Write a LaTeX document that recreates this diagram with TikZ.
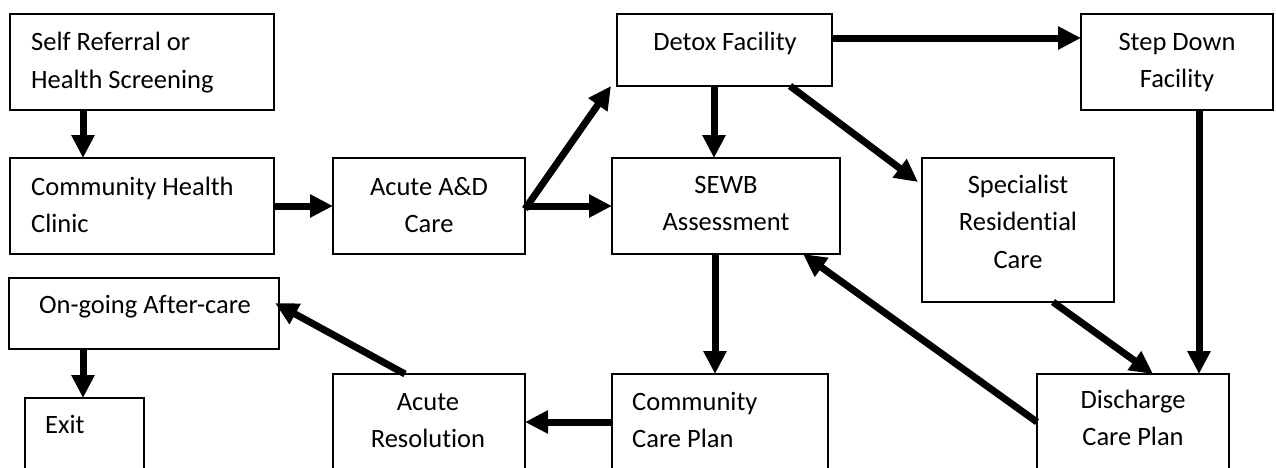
\documentclass[tikz,border=0pt]{standalone}
\usepackage{fontspec}
\setmainfont{Carlito}[Ligatures=NoCommon]
\usetikzlibrary{arrows.meta}
\begin{document}
\begin{tikzpicture}[x=1pt,y=-1pt,
  box/.style={draw,line width=1.2pt,anchor=north west,inner sep=0pt,outer sep=0pt},
  lbl/.style={anchor=base west,inner sep=0pt,font=\fontsize{26.5}{37}\selectfont},
  clbl/.style={anchor=base,inner sep=0pt,font=\fontsize{26.5}{37}\selectfont},
  arr/.style={line width=7pt,-{Triangle[length=23pt,width=22pt]}}]
\path[use as bounding box] (0,0) rectangle (1276,467);
\fill[white] (0,0) rectangle (1276,467);
\clip (0,0) rectangle (1276,467);
% boxes
\node[box,minimum width=264pt,minimum height=96pt] (self) at (10,14) {};
\node[box,minimum width=264pt,minimum height=96pt] (chc) at (10,158) {};
\node[box,minimum width=192pt,minimum height=96pt] (acute) at (333,158) {};
\node[box,minimum width=215pt,minimum height=72pt] (detox) at (617,14) {};
\node[box,minimum width=228pt,minimum height=96pt] (sewb) at (612,158) {};
\node[box,minimum width=192pt,minimum height=96pt] (step) at (1081,14) {};
\node[box,minimum width=192pt,minimum height=144pt] (spec) at (922,158) {};
\node[box,minimum width=192pt,minimum height=120pt] (disc) at (1037,374) {};
\node[box,minimum width=270pt,minimum height=71pt] (ongo) at (9,278) {};
\node[box,minimum width=119pt,minimum height=100pt] (exit) at (25,398) {};
\node[box,minimum width=192pt,minimum height=120pt] (ares) at (333,374) {};
\node[box,minimum width=216pt,minimum height=120pt] (ccp) at (612,374) {};
% texts
\node[lbl] (t1a) at (31,50) {Self Referral or};
\node[lbl] (t1b) at (31,88) {Health Screening};
\node[lbl] (t2a) at (31,195) {Community Health};
\node[lbl] (t2b) at (31,232) {Clinic};
\node[clbl] (t3a) at (429,195) {Acute A\&D};
\node[clbl] (t3b) at (429,232) {Care};
\node[clbl] (t4) at (725,50) {Detox Facility};
\node[clbl] (t5a) at (726,193) {SEWB};
\node[clbl] (t5b) at (726,230) {Assessment};
\node[clbl] (t6a) at (1177,50) {Step Down};
\node[clbl] (t6b) at (1177,87) {Facility};
\node[clbl] (t7a) at (1018,193) {Specialist};
\node[clbl] (t7b) at (1018,230) {Residential};
\node[clbl] (t7c) at (1018,268) {Care};
\node[clbl] (t8a) at (1133,408) {Discharge};
\node[clbl] (t8b) at (1133,445) {Care Plan};
\node[clbl] (t9) at (145,313) {On-going After-care};
\node[lbl] (t10) at (45,433) {Exit};
\node[clbl] (t11a) at (428,410) {Acute};
\node[clbl] (t11b) at (428,447) {Resolution};
\node[lbl] (t12a) at (632,410) {Community};
\node[lbl] (t12b) at (632,447) {Care Plan};
% arrows
\draw[arr] ([xshift=73pt]self.south west) -- ([xshift=73pt]chc.north west);
\draw[arr] (chc.east) -- (acute.west);
\draw[arr] ([yshift=-3pt]acute.east) -- ([xshift=-6pt]detox.south west);
\draw[arr] (acute.east) -- (sewb.west);
\draw[arr] ([xshift=97pt]detox.south west) -- ([xshift=102pt]sewb.north west);
\draw[arr] ([yshift=-24pt]detox.north east) -- ([yshift=-24pt]step.north west);
\draw[arr] ([xshift=-42pt]detox.south east) -- ([xshift=-4pt,yshift=-24pt]spec.north west);
\draw[arr] ([xshift=118pt]step.south west) -- ([xshift=162pt]disc.north west);
\draw[arr] ([xshift=131pt]spec.south west) -- ([xshift=116pt]disc.north west);
\draw[arr] ([yshift=-48pt]disc.north west) -- ([xshift=-37pt]sewb.south east);
\draw[arr] ([xshift=103pt]sewb.south west) -- ([xshift=103pt]ccp.north west);
\draw[arr] ([yshift=-48pt]ccp.north west) -- ([yshift=-48pt]ares.north east);
\draw[arr] ([xshift=72pt]ares.north west) -- ([xshift=-4pt,yshift=-25pt]ongo.north east);
\draw[arr] ([xshift=74pt]ongo.south west) -- ([xshift=58pt]exit.north west);
\end{tikzpicture}
\end{document}
